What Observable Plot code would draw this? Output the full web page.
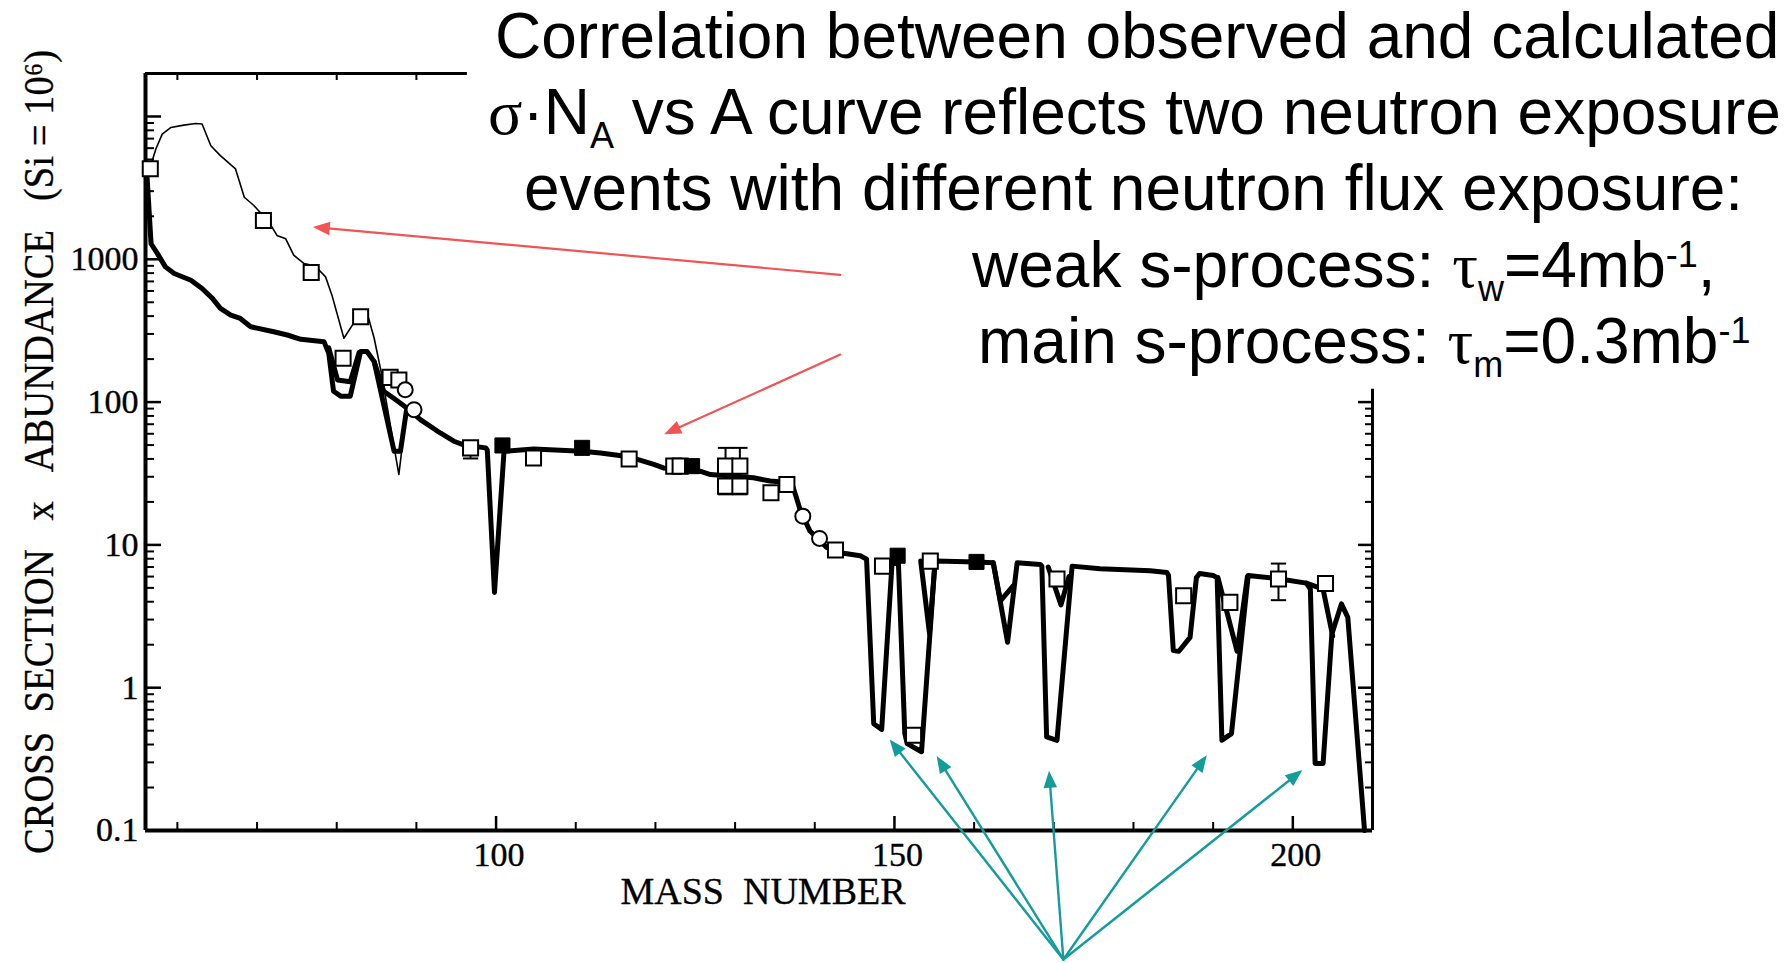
<!DOCTYPE html>
<html>
<head>
<meta charset="utf-8">
<script src="https://cdn.jsdelivr.net/npm/d3@7"></script>
<script src="https://cdn.jsdelivr.net/npm/@observablehq/plot@0.6"></script>
<style>
html, body { margin: 0; padding: 0; background: #fff; }
#wrap { position: relative; width: 1785px; height: 963px; overflow: hidden; background: #fff; }
#wrap svg { position: absolute; left: 0; top: 0; }
</style>
</head>
<body>
<div id="wrap"></div>
<script>
// ---------------- data ----------------
const xDomain = [56, 210];
const yDomain = [0.1, 20000];
const topAxisEnd = 96.4;    // top frame line is hidden behind the title beyond this A
const rightAxisTop = 123;   // right frame line is hidden behind the title above this value

// thick curve: main s-process component (sigma*N vs A)
const mainA = [56.2, 56.7, 57.5, 58.5, 59.6, 61.7, 63.1, 64.4, 65.4, 66.7, 67.9, 69.2, 72.1, 73.8, 75.5, 78.4, 79.0, 79.6, 80.5, 81.7,
  83.0, 83.8, 84.7, 87.2, 88.0, 88.8, 90.5, 93.0, 94.7, 96.0, 98.7, 98.9, 99.8, 101.0, 104.7, 110.8, 113.1, 116.7, 119.8, 121.0,
  125.6, 126.9, 129.8, 132.3, 134.4, 137.1, 137.7, 138.2, 139.4, 141.5, 143.2, 145.7, 146.5, 147.4, 148.4, 149.7, 150.5, 151.3, 151.6, 153.4,
  155.1, 160.3, 162.4, 164.2, 165.4, 168.3, 168.5, 169.1, 170.4, 172.3, 175.8, 182.1, 184.2, 184.4, 185.0, 185.7, 187.1, 187.9, 188.3, 190.0,
  190.5, 191.1, 192.3, 194.4, 198.2, 201.7, 202.2, 202.8, 203.8, 204.9, 206.1, 206.9, 209.0];
const mainY = [3750, 1285, 1096, 885, 795, 713, 624, 532, 453, 406, 385, 337, 311, 295, 275, 265, 220, 119, 110, 110,
  226, 226, 192, 45.3, 45.3, 91, 75.4, 60.8, 53.2, 50, 47.8, 46, 4.65, 45.3, 46.9, 45.3, 44, 41.4, 36.6, 34.6,
  32.8, 31.1, 30.3, 29.5, 28.0, 27.2, 21.4, 17.3, 12.5, 9.6, 8.8, 8.4, 7.95, 0.56, 0.51, 7.5, 7.4, 0.478, 0.406, 0.356,
  7.7, 7.6, 7.5, 2.08, 7.5, 7.3, 7.1, 0.452, 0.428, 7.1, 6.8, 6.6, 6.4, 6.1, 1.82, 1.80, 2.25, 5.9, 6.3, 6.1,
  5.9, 0.428, 0.477, 6.1, 5.8, 5.4, 4.9, 0.295, 0.295, 2.38, 3.86, 3.11, 0.1];

// thick curve pieces where the total (main + weak) departs from the main curve
const totalSeg = [0, 0, 0, 0, 1, 1, 1, 1, 2, 2, 2, 3, 3, 3, 4, 4, 4, 5, 5, 5, 6, 6, 6];
const totalA = [79.0, 80.1, 81.7, 82.8, 84.7, 85.9, 87.5, 88.8, 153.3, 154.4, 155.1, 162.4, 163.3, 164.9, 169.3, 170.9, 171.9, 190.6, 193.0, 194.3, 201.7, 203.8, 205.0];
const totalY = [240, 143, 139, 222, 192, 119, 103, 91, 7.7, 2.4, 7.7, 7.5, 4.06, 5.17, 7.0, 3.8, 6.0, 5.9, 1.8, 6.0, 5.4, 4.9, 2.3];

// thin curve: weak s-process
const weakA = [56.2, 57.3, 58.1, 59.2, 60.8, 62.3, 63.1, 64.2, 65.4, 67.3, 68.4, 69.6, 71.5, 72.5, 73.6, 74.6, 75.9, 77.3, 78.6, 79.4,
  80.9, 83.0, 83.8, 84.7, 85.6, 87.8, 88.8];
const weakY = [3750, 5920, 7530, 8380, 8700, 8940, 8850, 6240, 5320, 4290, 2720, 2380, 1820, 1470, 1390, 1070, 933, 898, 753, 561,
  280, 425, 425, 280, 160, 31.1, 91];

// observed values
const openSqA = [56.6, 70.8, 76.8, 80.8, 83.0, 86.7, 87.8, 96.8, 104.7, 116.7, 122.3, 123.1, 128.8, 130.6, 128.8, 130.6, 134.5, 136.5, 142.6, 148.5, 152.4, 154.5, 170.4, 186.3, 192.1, 198.2, 204.1];
const openSqY = [4300, 1870, 807, 203, 396, 149, 143, 47.8, 40.6, 40.0, 35.6, 35.6, 35.6, 35.6, 25.8, 25.8, 23.2, 26.5, 9.2, 7.1, 0.464, 7.7, 5.77, 4.4, 3.96, 5.77, 5.37];
const filledSqA = [100.8, 110.8, 124.6, 150.4, 160.3];
const filledSqY = [49.7, 47.8, 35.6, 8.4, 7.6];
const circleA = [88.6, 89.7, 138.5, 140.6];
const circleY = [122, 88.5, 15.9, 11.1];
const errA = [96.8, 128.8, 130.6, 198.2];
const errLo = [40.3, 22.6, 22.6, 4.1];
const errHi = [47.8, 47.8, 47.8, 7.4];

// axes
const yTickValues = [0.1, 1, 10, 100, 1000];
const yTickLabels = ["0.1", "1", "10", "100", "1000"];
const xTickValues = [100, 150, 200];
const xTickLabels = ["100", "150", "200"];
const xTitle = "MASS\u00A0\u00A0NUMBER";
const yTitle = "CROSS\u00A0\u00A0SECTION\u00A0\u00A0\u00A0x\u00A0\u00A0\u00A0ABUNDANCE\u00A0\u00A0\u00A0(Si = 10\u2076)";

// annotation arrows (data coordinates)
const redX1 = [143.2, 143.2], redY1 = [778, 215], redX2 = [77.0, 121.1], redY2 = [1683, 59.6];
const tealX1 = [171.2, 171.2, 171.2, 171.2, 171.2], tealY1 = [0.0125, 0.0125, 0.0125, 0.0125, 0.0125];
const tealX2 = [149.4, 155.3, 169.4, 189.2, 201.2], tealY2 = [0.434, 0.332, 0.262, 0.337, 0.265];

// title text
const titleLine1 = [["Correlation between observed and calculated", ""]];
const titleLine2 = [["σ", "greek"], ["·N", ""], ["A", "sub"], [" vs A curve reflects two neutron exposure", ""]];
const titleLine3 = [["events with different neutron flux exposure:", ""]];
const titleLine4 = [["weak s-process: ", ""], ["τ", "greek"], ["w", "sub"], ["=4mb", ""], ["-1", "sup"], [",", ""]];
const titleLine5 = [["main s-process: ", ""], ["τ", "greek"], ["m", "sub"], ["=0.3mb", ""], ["-1", "sup"]];

// ---------------- layout ----------------
const W = 1785, H = 963;
const mL = 145, mR = 413, mT = 73, mB = 133;
const pw = W - mL - mR, ph = H - mT - mB;
const RED = "#f05454", TEAL = "#149c9c";
const serif = "'Liberation Serif', 'Times New Roman', serif";
const sans = "'Liberation Sans', Arial, sans-serif";

const main = mainA.map((a, i) => ({a, v: mainY[i]}));
const total = totalA.map((a, i) => ({a, v: totalY[i], s: totalSeg[i]}));
const weak = weakA.map((a, i) => ({a, v: weakY[i]}));
const openSq = openSqA.map((a, i) => ({a, v: openSqY[i]}));
const filledSq = filledSqA.map((a, i) => ({a, v: filledSqY[i]}));
const circles = circleA.map((a, i) => ({a, v: circleY[i]}));
const err = errA.map((a, i) => ({a, lo: errLo[i], hi: errHi[i]}));
const errEnds = err.flatMap(d => [{a: d.a, v: d.lo}, {a: d.a, v: d.hi}]);
const redArrows = redX1.map((x, i) => ({x1: x, y1: redY1[i], x2: redX2[i], y2: redY2[i]}));
const tealArrows = tealX1.map((x, i) => ({x1: x, y1: tealY1[i], x2: tealX2[i], y2: tealY2[i]}));

const decades = [0.1, 1, 10, 100, 1000, 10000];
const yMinor = decades.flatMap(d => [2, 3, 4, 5, 6, 7, 8, 9].map(k => +(k * d).toPrecision(3))).filter(v => v < yDomain[1]);
const xMinor = d3.range(60, 201, 10).filter(v => !xTickValues.includes(v));

const sx = Plot.scale({x: {domain: xDomain, range: [mL, W - mR]}});
const sy = Plot.scale({y: {type: "log", domain: yDomain, range: [H - mB, mT]}});
const angle = d => {
  const dx = sx.apply(d.x2) - sx.apply(d.x1), dy = sy.apply(d.y2) - sy.apply(d.y1);
  return Math.atan2(dx, -dy) * 180 / Math.PI;
};
const headSymbol = {draw(ctx, size) { const r = Math.sqrt(size / Math.PI); const L = 2 * r, w = 0.8 * r; ctx.moveTo(0, 0); ctx.lineTo(-w, L); ctx.lineTo(w, L); ctx.closePath(); }};
const capSymbol = {draw(ctx, size) { const h = Math.sqrt(size / Math.PI) * 0.9; ctx.moveTo(-h, 0); ctx.lineTo(h, 0); }};

const ink = {fill: "black", stroke: "black"};

const chart = Plot.plot({
  width: W, height: H,
  marginLeft: mL, marginRight: mR, marginTop: mT, marginBottom: mB,
  x: {domain: xDomain, axis: null},
  y: {type: "log", domain: yDomain, axis: null},
  style: {fontFamily: serif, background: "transparent", color: "black", overflow: "visible"},
  marks: [
    // frame
    Plot.ruleX([xDomain[0]], {strokeWidth: 4}),
    Plot.ruleY([yDomain[0]], {strokeWidth: 4}),
    Plot.ruleY([yDomain[1]], {x1: xDomain[0], x2: topAxisEnd, strokeWidth: 3}),
    Plot.ruleX([xDomain[1]], {y1: yDomain[0], y2: rightAxisTop, strokeWidth: 3}),
    // inward ticks
    Plot.tickY(decades, {y: d => d, insetRight: pw - 16, strokeWidth: 2.5}),
    Plot.tickY(yMinor, {y: d => d, insetRight: pw - 9, strokeWidth: 2}),
    Plot.tickY(decades.filter(v => v <= rightAxisTop), {y: d => d, insetLeft: pw - 14, strokeWidth: 2.5}),
    Plot.tickY(yMinor.filter(v => v <= rightAxisTop), {y: d => d, insetLeft: pw - 7, strokeWidth: 2}),
    Plot.tickX(xTickValues, {x: d => d, insetTop: ph - 14, strokeWidth: 2.5}),
    Plot.tickX(xMinor, {x: d => d, insetTop: ph - 8, strokeWidth: 2}),
    Plot.tickX(xMinor.filter(v => v < topAxisEnd), {x: d => d, insetBottom: ph - 7, strokeWidth: 2}),
    // tick labels and titles
    Plot.text(yTickValues, {y: d => d, frameAnchor: "left", dx: -7, textAnchor: "end", lineAnchor: "middle",
      text: (d, i) => yTickLabels[i], fontSize: 34, ...ink, strokeWidth: 0.4}),
    Plot.text(xTickValues, {x: d => d, frameAnchor: "bottom", dy: 25, dx: 3, lineAnchor: "middle", textAnchor: "middle",
      text: (d, i) => xTickLabels[i], fontSize: 34, ...ink, strokeWidth: 0.4}),
    Plot.text([xTitle], {frameAnchor: "bottom", dy: 61, dx: 4, lineAnchor: "middle", textAnchor: "middle",
      text: d => d, fontSize: 38, ...ink, strokeWidth: 0.3}),
    Plot.text([yTitle], {frameAnchor: "left", dx: -106, rotate: -90, lineAnchor: "middle", textAnchor: "middle",
      text: d => d, fontSize: 42, ...ink, strokeWidth: 0.3}),
    // curves
    Plot.line(total, {x: "a", y: "v", z: "s", strokeWidth: 5, strokeLinejoin: "round", strokeLinecap: "round"}),
    Plot.line(main, {x: "a", y: "v", strokeWidth: 5, strokeLinejoin: "round"}),
    Plot.line(weak, {x: "a", y: "v", strokeWidth: 1.6, strokeLinejoin: "round"}),
    // observations
    Plot.ruleX(err, {x: "a", y1: "lo", y2: "hi", strokeWidth: 2}),
    Plot.dot(errEnds, {x: "a", y: "v", symbol: capSymbol, r: 8.5, fill: "none", stroke: "black", strokeWidth: 2}),
    Plot.dot(openSq, {x: "a", y: "v", symbol: "square", r: 8.5, fill: "white", stroke: "black", strokeWidth: 2}),
    Plot.dot(circles, {x: "a", y: "v", symbol: "circle", r: 7.5, fill: "white", stroke: "black", strokeWidth: 2}),
    Plot.dot(filledSq, {x: "a", y: "v", symbol: "square", r: 8.5, fill: "black", stroke: "black", strokeWidth: 1}),
    // annotation arrows
    Plot.arrow(redArrows, {x1: "x1", y1: "y1", x2: "x2", y2: "y2", stroke: RED, strokeWidth: 2.2, headLength: 0, insetEnd: 10}),
    Plot.dot(redArrows, {x: "x2", y: "y2", symbol: headSymbol, r: 8.5, fill: RED, stroke: "none", rotate: angle}),
    Plot.arrow(tealArrows, {x1: "x1", y1: "y1", x2: "x2", y2: "y2", stroke: TEAL, strokeWidth: 2.4, headLength: 0, insetEnd: 10}),
    Plot.dot(tealArrows, {x: "x2", y: "y2", symbol: headSymbol, r: 8.5, fill: TEAL, stroke: "none", rotate: angle})
  ]
});
document.getElementById("wrap").appendChild(chart);

// the scanned axis title is a condensed face: keep the glyph height, fit the measured length
d3.select(chart).selectAll("text")
  .filter(function () { return this.textContent === yTitle; })
  .attr("textLength", 804).attr("lengthAdjust", "spacingAndGlyphs");

// ---------------- title overlay ----------------
const ov = d3.select("#wrap").append("svg").attr("width", W).attr("height", H);
const lines = [
  {x: 495, y: 58, parts: titleLine1},
  {x: 488, y: 134, parts: titleLine2},
  {x: 524, y: 210, parts: titleLine3},
  {x: 972, y: 287, parts: titleLine4},
  {x: 978, y: 363, parts: titleLine5}
];
lines.forEach(line => {
  const t = ov.append("text").attr("x", line.x).attr("y", line.y)
    .attr("font-family", sans).attr("font-size", 64).attr("fill", "black")
    .style("white-space", "pre");
  let shift = 0;
  line.parts.forEach(([s, kind]) => {
    const ts = t.append("tspan").text(s);
    const target = kind === "sub" ? 14 : kind === "sup" ? -20 : 0;
    if (target !== shift) { ts.attr("dy", target - shift); shift = target; }
    if (kind === "sub" || kind === "sup") ts.attr("font-size", 36);
    if (kind === "greek") ts.attr("font-family", serif);
  });
});
</script>
</body>
</html>
